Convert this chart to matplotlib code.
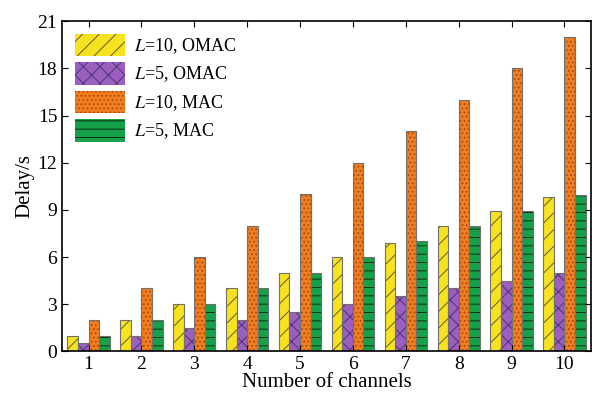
import numpy as np
import matplotlib
matplotlib.use("Agg")
from matplotlib import pyplot as plt
from matplotlib.patches import Patch

plt.rcParams['font.family'] = ['Liberation Serif', 'DejaVu Serif']
plt.rcParams['mathtext.fontset'] = 'stix'
plt.rcParams['hatch.linewidth'] = 0.7

# data
channels = [1, 2, 3, 4, 5, 6, 7, 8, 9, 10]
omac_l10 = [1.0, 2.0, 3.0, 4.0, 5.0, 6.0, 6.9, 8.0, 8.9, 9.85]
omac_l5 = [0.5, 1.0, 1.5, 2.0, 2.5, 3.0, 3.5, 4.0, 4.5, 5.0]
mac_l10 = [2, 4, 6, 8, 10, 12, 14, 16, 18, 20]
mac_l5 = [1.0, 2.0, 3.0, 4.0, 5.0, 6.0, 7.0, 8.0, 8.95, 9.95]
labels = ["$L$=10, OMAC", "$L$=5, OMAC", "$L$=10, MAC", "$L$=5, MAC"]

series = [omac_l10, omac_l5, mac_l10, mac_l5]
faces = ['#f7e21f', '#9a5fbf', '#f07d1e', '#15a049']
hatch_cols = ['#5e5d32', '#4f3175', '#a8440c', '#0c2e14']
hatches = ['//', 'xx', '....', '--']

fig = plt.figure(figsize=(5.92, 3.93), dpi=100)
ax = fig.add_axes([0.105, 0.106, 0.893, 0.84])

x = np.array(channels)
w = 0.2
for i in range(4):
    pos = x + (i - 1.5) * w
    ax.bar(pos, series[i], w, color=faces[i], edgecolor=hatch_cols[i],
           hatch=hatches[i], linewidth=0)
    ax.bar(pos, series[i], w, fill=False, edgecolor='#707070', linewidth=0.8)

handles = [Patch(facecolor=faces[i], edgecolor=hatch_cols[i], hatch=hatches[i],
                 linewidth=0) for i in range(4)]
leg = ax.legend(handles, labels, loc='upper left', frameon=False, fontsize=13,
                handlelength=2.8, handleheight=1.55, labelspacing=0.32,
                handletextpad=0.5, borderaxespad=0.3,
                bbox_to_anchor=(0.0, 1.0))

ax.set_xlim(0.5, 10.5)
ax.set_ylim(0, 21)
ax.set_xticks(channels)
ax.set_yticks(np.arange(0, 22, 3))
ax.tick_params(direction='in', top=True, right=True, labelsize=14, length=4)
ax.set_xlabel("Number of channels", fontsize=15, labelpad=0)
ax.set_ylabel("Delay/s", fontsize=15, labelpad=2)
for s in ax.spines.values():
    s.set_linewidth(1.2)

fig.savefig("out.png", dpi=100)
